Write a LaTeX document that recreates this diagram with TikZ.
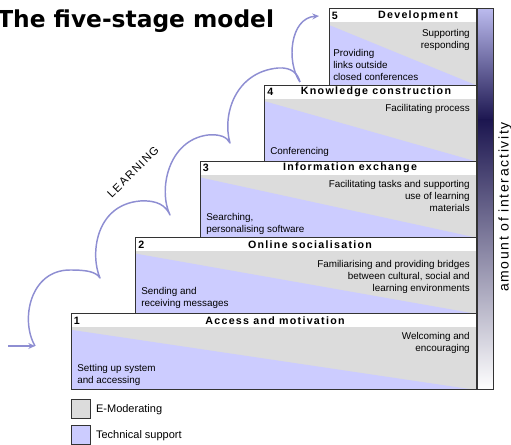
\documentclass[tikz,border=0pt]{standalone}
\usepackage{fontspec}
\setmainfont{Liberation Sans}
\newfontfamily\barfont[LetterSpace=12]{Liberation Sans}
\newfontfamily\headfont[LetterSpace=12]{Liberation Sans}
\newfontfamily\titlefont{DejaVu Sans}
\usetikzlibrary{arrows.meta,positioning}
\definecolor{emod}{HTML}{DCDCDC}
\definecolor{tech}{HTML}{CCCCFF}
\definecolor{navy}{HTML}{1C1650}
\definecolor{learn}{HTML}{8E8ED2}

\begin{document}
\begin{tikzpicture}[x = 0.75pt, y = -0.75pt,
  stagebox/.style = {draw = black!80, line width = 0.75pt},
  learnpath/.style = {draw = learn, line width = 1.1pt, line join = round},
  stagetext/.style = {font = \fontsize{7.4}{9}\selectfont, inner sep = 0pt},
  stagehead/.style = {font = \headfont\bfseries\fontsize{8}{9.6}\selectfont, inner sep = 0pt},
  keybox/.style = {draw = black!80, line width = 0.75pt, minimum size = 14.25pt, inner sep = 0pt}]
\useasboundingbox (0,0) rectangle (511,445);

\node[anchor = base west, inner sep = 0pt, font = \titlefont\bfseries\fontsize{17.5}{20}\selectfont] (title) at (-3,28) {The five-stage model};

% the five steps
\foreach \n/\lx/\ty in {1/71/313.8, 2/135.5/237.6, 3/200/161.4, 4/264.5/85.2, 5/329/9} {
  \fill[emod] (\lx,\ty) rectangle (476,\ty+76.2);
  \fill[tech] (\lx,\ty+16) -- (476,\ty+76.2) -- (\lx,\ty+76.2) -- cycle;
  \fill[white] (\lx,\ty) rectangle (476,\ty+13.5);
  \draw[stagebox] (\lx,\ty) rectangle (476,\ty+76.2);
  \node[stagehead, anchor = west] (num\n) at (\lx+2.5,\ty+6.8) {\n};
}

\node[stagehead] (head1) at (275,320.6) {Access and motivation};
\node[stagehead] (head2) at (310,244.4) {Online socialisation};
\node[stagehead] (head3) at (350,168.2) {Information exchange};
\node[stagehead] (head4) at (376,92) {Knowledge construction};
\node[stagehead] (head5) at (418,15.8) {Development};

\node[stagetext, anchor = north east, align = right] (mod1) at (470,332) {Welcoming and\\encouraging};
\node[stagetext, anchor = north west, align = left] (tech1) at (77,364) {Setting up system\\and accessing};
\node[stagetext, anchor = north east, align = right] (mod2) at (470,260) {Familiarising and providing bridges\\between cultural, social and\\learning environments};
\node[stagetext, anchor = north west, align = left] (tech2) at (141,287) {Sending and\\receiving messages};
\node[stagetext, anchor = north east, align = right] (mod3) at (470,180) {Facilitating tasks and supporting\\use of learning\\materials};
\node[stagetext, anchor = north west, align = left] (tech3) at (206,213) {Searching,\\personalising software};
\node[stagetext, anchor = north east, align = right] (mod4) at (470,104) {Facilitating process};
\node[stagetext, anchor = north west, align = left] (tech4) at (270,147) {Conferencing};
\node[stagetext, anchor = north east, align = right] (mod5) at (470,29) {Supporting\\responding};
\node[stagetext, anchor = north west, align = left] (tech5) at (333,49) {Providing\\links outside\\closed conferences};

% interactivity bar
\shade[top color = tech!90!navy, bottom color = navy] (477,9) rectangle (493,120);
\shade[top color = navy, bottom color = white] (477,120) rectangle (493,390);
\draw[stagebox] (477,9) rectangle (493,390);
\node[inner sep = 0pt, font = \barfont\fontsize{10.5}{12}\selectfont, rotate = 90] (amount) at (505,207) {amount of interactivity};

% learning path
\coordinate (start) at (8,346);
\coordinate (c0) at (35,346);
\coordinate (c1) at (100,278);
\coordinate (c2) at (170,215);
\coordinate (c3) at (230,143);
\coordinate (c4) at (300,82);
\coordinate (c5) at (319,16);
\draw[learnpath, -{Stealth[length = 5pt, width = 4.5pt]}] (start) -- (c0);
\draw[learnpath] (c0) .. controls (20,320) and (30,270) .. (70,270) .. controls (88,270) and (96,272) .. (c1)
  .. controls (90,255) and (95,205) .. (140,201) .. controls (158,200) and (166,206) .. (c2)
  .. controls (158,190) and (168,140) .. (208,135) .. controls (220,134) and (227,137) .. (c3)
  .. controls (222,115) and (235,72) .. (278,68) .. controls (292,67) and (298,74) .. (c4);
\draw[learnpath, -{Stealth[length = 5pt, width = 4.5pt]}] (c4) .. controls (286,62) and (290,18) .. (c5);
\node[inner sep = 0pt, font = \barfont\fontsize{8.5}{10}\selectfont, rotate = 45] (learning) at (133,172) {LEARNING};

% key
\node[keybox, fill = emod] (emodkey) at (80.5,409.5) {};
\node[keybox, fill = tech] (techkey) at (80.5,435.5) {};
\node[font = \fontsize{8.25}{10}\selectfont, inner sep = 0pt, right = 4pt of emodkey] (emodlabel) {E-Moderating};
\node[font = \fontsize{8.25}{10}\selectfont, inner sep = 0pt, right = 4pt of techkey] (techlabel) {Technical support};
\end{tikzpicture}
\end{document}
